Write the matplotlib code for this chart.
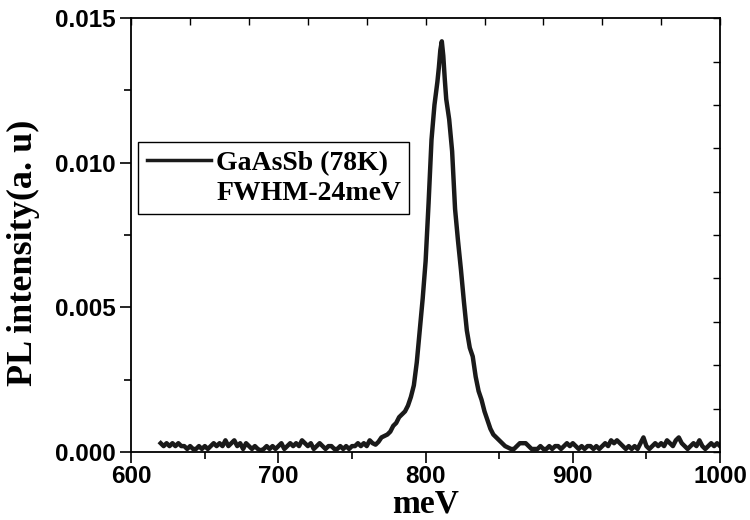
import numpy as np
import matplotlib
matplotlib.use("Agg")
import matplotlib.pyplot as plt
from matplotlib.lines import Line2D
from matplotlib.ticker import MultipleLocator, FormatStrFormatter

# --- PL spectrum of GaAsSb at 78 K (intensity in 1e-4 a.u.) ---
# low-energy baseline, 620-764 meV every 2 meV
base_lo_energy = np.arange(620, 765, 2)
base_lo_counts = [
    3, 2, 3, 2, 3, 2, 3, 2, 2, 1,
    2, 1, 1, 2, 1, 2, 1, 2, 3, 2,
    3, 2, 4, 2, 3, 4, 2, 3, 1, 3,
    2, 1, 2, 1, 0.5, 1, 2, 1, 2, 1,
    2, 3, 1, 2, 3, 2, 3, 2, 4, 3,
    2, 3, 1, 2, 3, 2, 1, 2, 2, 1,
    1, 2, 1, 2, 1, 2, 2, 3, 2, 3,
    2, 4, 3,
]

# emission peak
peak_energy = [
    766, 768, 770, 772, 774, 776, 778, 780, 782, 784,
    786, 788, 790, 792, 794, 796, 798, 800, 802, 804,
    806, 808, 809, 810, 811, 812, 813, 814, 816, 818,
    820, 822, 824, 826, 828, 830, 832, 834, 836, 838,
    840, 842, 844, 846, 848, 850, 852, 854, 856,
]
peak_counts = [
    2.5, 3.5, 5, 5.5, 6, 7, 9, 10, 12, 13,
    14, 16, 19, 23, 31, 42, 53, 66, 86, 108,
    120, 128, 133, 139, 142, 137, 129, 122, 115, 104,
    84, 73, 63, 52, 42, 36, 33, 26, 21, 18,
    14, 11, 8, 6, 5, 4, 3, 2, 1.5,
]

# high-energy baseline, 858-1000 meV every 2 meV
base_hi_energy = np.arange(858, 1001, 2)
base_hi_counts = [
    1, 1, 2, 3, 3, 3, 2, 1, 1, 1,
    2, 1, 1, 2, 1, 2, 2, 1, 2, 3,
    2, 3, 2, 1, 2, 1, 2, 2, 1, 2,
    1, 2, 3, 2, 4, 3, 4, 3, 2, 1,
    2, 1, 2, 1, 3, 5, 2, 1, 2, 3,
    2, 3, 2, 4, 3, 2, 4, 5, 3, 2,
    1, 2, 3, 2, 4, 2, 1, 2, 3, 2,
    3, 2,
]

legend_labels = ["GaAsSb (78K)", "FWHM-24meV"]

energy = np.concatenate([base_lo_energy, peak_energy, base_hi_energy])
intensity = np.concatenate([base_lo_counts, peak_counts, base_hi_counts]) * 1e-4

fig = plt.figure(figsize=(7.5, 5.2), dpi=100)
ax = fig.add_axes([0.175, 0.131, 0.785, 0.834])

line, = ax.plot(energy, intensity, color="#1a1a1a", lw=3.2, solid_joinstyle="round")

ax.set_xlim(600, 1000)
ax.set_ylim(0, 0.015)

ax.xaxis.set_major_locator(MultipleLocator(100))
ax.xaxis.set_minor_locator(MultipleLocator(50))
ax.yaxis.set_major_locator(MultipleLocator(0.005))
ax.yaxis.set_minor_locator(MultipleLocator(0.0025))
ax.yaxis.set_major_formatter(FormatStrFormatter("%.3f"))

ax.tick_params(axis="both", which="major", direction="out", length=8, width=1.2,
               labelsize=17.5, pad=3)
ax.tick_params(axis="x", which="major", pad=1.5)
ax.tick_params(axis="both", which="minor", direction="out", length=5, width=1.2)
for lab in ax.get_xticklabels() + ax.get_yticklabels():
    lab.set_fontfamily("Liberation Sans")
    lab.set_fontweight("bold")

for s in ax.spines.values():
    s.set_linewidth(1.3)

# inward ticks on the top and right frame
top = ax.secondary_xaxis("top")
top.set_xticks(np.arange(600, 1001, 40))
top.tick_params(direction="in", length=5, width=1.0, labeltop=False)
top.spines["top"].set_visible(False)
right = ax.secondary_yaxis("right")
right.set_yticks(np.arange(0, 0.01501, 0.0015))
right.tick_params(direction="in", length=5, width=1.0, labelright=False)
right.spines["right"].set_visible(False)

ax.set_xlabel("meV", fontfamily="Liberation Serif", fontweight="bold",
              fontsize=24, labelpad=0)
ax.set_ylabel("PL intensity(a. u)", fontfamily="Liberation Serif",
              fontweight="bold", fontsize=26)
ax.yaxis.set_label_coords(-0.155, 0.46)

blank = Line2D([], [], color="none")
leg = ax.legend([line, blank], legend_labels, loc="upper left",
                bbox_to_anchor=(0.012, 0.714), borderaxespad=0,
                prop={"family": "Liberation Serif", "weight": "bold", "size": 20},
                handlelength=2.3, handletextpad=0.2, labelspacing=0.15,
                borderpad=0.3, fancybox=False, framealpha=1,
                edgecolor="black")
leg.get_frame().set_linewidth(1.0)
leg.legend_handles[0].set_linewidth(2.5)

fig.savefig("out.png", dpi=100)
